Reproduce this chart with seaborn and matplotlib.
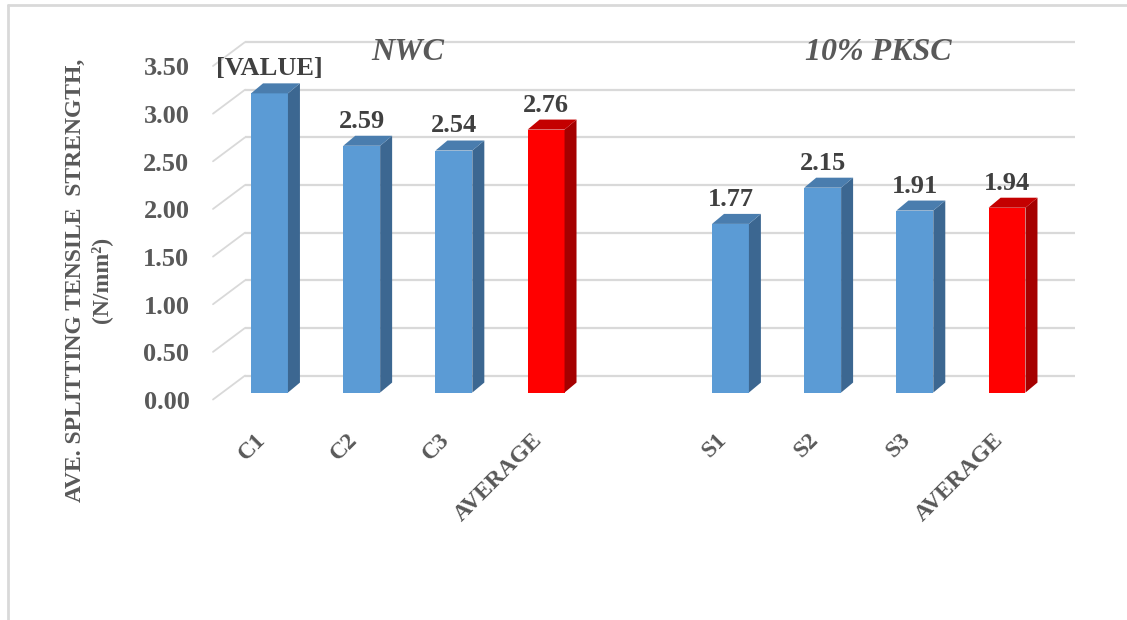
import numpy as np
import pandas as pd
import matplotlib
matplotlib.use("Agg")
import matplotlib.pyplot as plt
from matplotlib.patches import Polygon
from matplotlib.lines import Line2D
import seaborn as sns

# data
keys = ["C1", "C2", "C3", "AVG_NWC", "S1", "S2", "S3", "AVG_PKSC"]
tick_labels = ["C1", "C2", "C3", "AVERAGE", "S1", "S2", "S3", "AVERAGE"]
values = [3.14, 2.59, 2.54, 2.76, 1.77, 2.15, 1.91, 1.94]
kinds = ["sample", "sample", "sample", "average", "sample", "sample", "sample", "average"]
bar_texts = ["[VALUE]", "2.59", "2.54", "2.76", "1.77", "2.15", "1.91", "1.94"]
group_titles = ["NWC", "10% PKSC"]
y_ticks = [0.0, 0.5, 1.0, 1.5, 2.0, 2.5, 3.0, 3.5]

order = ["C1", "C2", "C3", "AVG_NWC", "gap", "S1", "S2", "S3", "AVG_PKSC"]

df = pd.DataFrame({"key": keys, "value": values, "kind": kinds})

sns.set_style("white")
plt.rcParams["font.family"] = ["Liberation Serif", "DejaVu Serif"]

front = {"sample": "#5B9BD5", "average": "#FF0000"}
side = {"sample": "#3C6791", "average": "#A50000"}
top = {"sample": "#4A7DAE", "average": "#C40000"}

fig = plt.figure(figsize=(11.27, 6.2), dpi=100)
W, H = 1127, 620
ax = fig.add_axes([213 / W, (H - 400) / H, (1075 - 213) / W, (400 - 42) / H])

sns.barplot(data=df, x="key", y="value", hue="kind", order=order,
            palette=front, dodge=False, width=0.4, legend=False,
            saturation=1, ax=ax, zorder=3, linewidth=0)

xmin, xmax = -0.613, 8.737
ymin, ymax = -0.073, 3.679
ax.set_xlim(xmin, xmax)
ax.set_ylim(ymin, ymax)

# fake 3D depth
wall_d = 0.178
wall_x = -0.266
bar_dx = 0.13
bar_dy = 0.105

for v in y_ticks:
    ax.plot([wall_x, xmax], [v + wall_d, v + wall_d], color="#D9D9D9", lw=1.6,
            zorder=0, clip_on=False, solid_capstyle="butt")
    ax.plot([xmin, wall_x], [v - 0.073, v + wall_d], color="#D9D9D9", lw=1.3,
            zorder=0, clip_on=False)

bars = [p for p in ax.patches if p.get_height() > 0]
bars.sort(key=lambda p: p.get_x())
centers = []
for p, kind in zip(bars, kinds):
    x0 = p.get_x()
    x1 = x0 + p.get_width()
    h = p.get_height()
    centers.append((x0 + x1) / 2)
    ax.add_patch(Polygon([(x1, 0), (x1 + bar_dx, bar_dy), (x1 + bar_dx, h + bar_dy), (x1, h)],
                         closed=True, facecolor=side[kind], edgecolor="none", zorder=3))
    ax.add_patch(Polygon([(x0, h), (x0 + bar_dx, h + bar_dy), (x1 + bar_dx, h + bar_dy), (x1, h)],
                         closed=True, facecolor=top[kind], edgecolor="none", zorder=3))

for cx, v, t in zip(centers, values, bar_texts):
    ax.annotate(t, (cx, v), xytext=(0, 13), textcoords="offset points",
                ha="center", va="baseline", fontsize=19, fontweight="bold",
                color="#404040", annotation_clip=False)

# group titles
ax.text(np.mean(centers[:4]), 3.564, group_titles[0], ha="center", va="center",
        fontsize=23, fontweight="bold", fontstyle="italic", color="#595959")
ax.text(np.mean(centers[4:]) + 0.1, 3.564, group_titles[1], ha="center", va="center",
        fontsize=23, fontweight="bold", fontstyle="italic", color="#595959")

ax.set_yticks([v - 0.078 for v in y_ticks])
ax.set_yticklabels([f"{v:.2f}" for v in y_ticks], fontsize=19, fontweight="bold", color="#595959")
ax.set_xticks(centers)
ax.set_xticklabels(tick_labels, rotation=45, ha="right", fontsize=17,
                   fontweight="bold", color="#595959")
ax.tick_params(axis="y", length=0, pad=17)
ax.tick_params(axis="x", length=0, pad=21)
ax.set_xlabel("")
ax.set_ylabel("")
for s in ax.spines.values():
    s.set_visible(False)

fig.text(75 / W, 1 - 280 / H, "AVE. SPLITTING TENSILE  STRENGTH,", rotation=90,
         ha="center", va="center", fontsize=17, fontweight="bold", color="#595959")
fig.text(101 / W, 1 - 280 / H, "(N/mm²)", rotation=90,
         ha="center", va="center", fontsize=17, fontweight="bold", color="#595959")

# outer chart frame
fig.add_artist(Line2D([8 / W, 1], [1 - 5 / H, 1 - 5 / H], color="#D9D9D9", lw=2,
                      transform=fig.transFigure))
fig.add_artist(Line2D([8 / W, 8 / W], [0, 1 - 5 / H], color="#D9D9D9", lw=2,
                      transform=fig.transFigure))

fig.savefig("out.png", dpi=100)
